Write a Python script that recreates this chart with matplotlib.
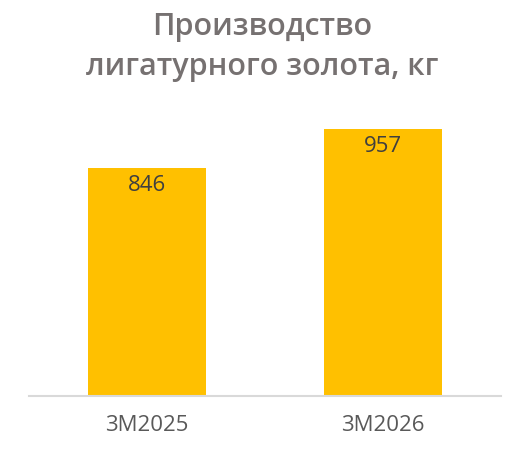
import matplotlib
matplotlib.use("Agg")
import matplotlib.pyplot as plt

periods = ["3M2025", "3M2026"]  # reporting periods
gold_kg = [846, 957]  # ligature gold output, kg
title = "Производство\nлигатурного золота, кг"

plt.rcParams['font.family'] = ['Open Sans', 'DejaVu Sans']

fig = plt.figure(figsize=(5.30, 4.71), dpi=100)
ax = fig.add_axes([29 / 530, 75 / 471, 472 / 530, 282 / 471])

x = range(len(periods))
bars = ax.bar(x, gold_kg, width=0.5, color="#FFC000", zorder=2)
ax.set_xlim(-0.5, len(periods) - 0.5)
ax.set_ylim(200, 1000)

# value labels just under the top of each bar
for b, v in zip(bars, gold_kg):
    ax.annotate(str(v), (b.get_x() + b.get_width() / 2, v), xytext=(0, -17),
                textcoords="offset pixels", ha="center", va="center",
                fontsize=16, color="#3F3F3F")

ax.set_xticks(list(x))
ax.set_xticklabels(periods, fontsize=16, color="#595959")
ax.tick_params(axis="x", length=0, pad=14)
ax.set_yticks([])
for s in ["top", "left", "right"]:
    ax.spines[s].set_visible(False)
ax.spines["bottom"].set_color("#D9D9D9")
ax.spines["bottom"].set_linewidth(1.5)

fig.text(0.494, 1 - 47 / 471, title, ha="center", va="center",
         fontsize=22, fontweight="semibold", color="#767171", linespacing=1.45)

fig.savefig("out.png", dpi=100)
